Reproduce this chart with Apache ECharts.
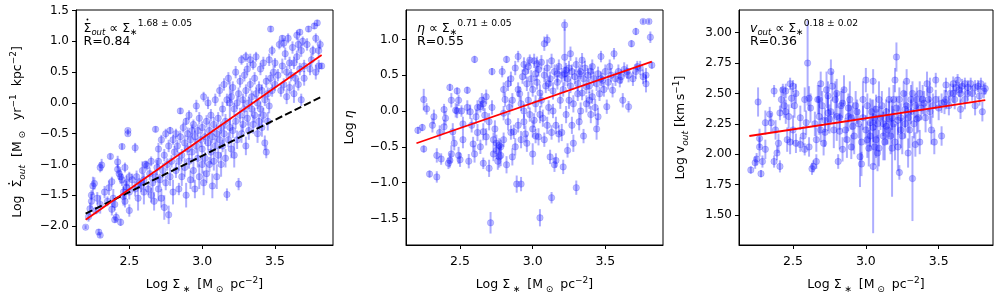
<!DOCTYPE html>
<html><head><meta charset="utf-8">
<script src="https://cdn.jsdelivr.net/npm/echarts@6/dist/echarts.min.js"></script>
<style>html,body{margin:0;padding:0;background:#fff}#c{width:1000px;height:300px}</style>
</head><body><div id="c"></div>
<script>
const xTicks=[2.5,3.0,3.5];
const y1Ticks=[-2.0,-1.5,-1.0,-0.5,0.0,0.5,1.0,1.5];
const y2Ticks=[-1.5,-1.0,-0.5,0.0,0.5,1.0];
const y3Ticks=[1.5,1.75,2.0,2.25,2.5,2.75,3.0];

// [log Sigma*, value, y error]
const p1=[
[2.20,-2.02,0.03],[2.22,-1.85,0.08],[2.23,-1.72,0.10],[2.24,-1.60,0.12],[2.24,-1.50,0.08],[2.25,-1.35,0.15],[2.26,-1.31,0.10],[2.27,-1.75,0.06],[2.28,-1.55,0.10],[2.29,-2.10,0.05],[2.30,-2.15,0.04],[2.30,-1.05,0.08],[2.31,-1.01,0.10],[2.30,-1.65,0.15],
[2.33,-1.45,0.10],[2.35,-1.60,0.08],[2.36,-1.38,0.12],[2.37,-0.87,0.05],[2.38,-1.73,0.10],[2.38,-1.28,0.08],[2.39,-1.55,0.15],[2.40,-1.90,0.05],[2.40,-1.65,0.10],
[2.41,-1.86,0.08],[2.42,-0.96,0.10],[2.42,-1.08,0.08],[2.43,-1.15,0.10],[2.44,-1.94,0.06],[2.44,-1.20,0.12],[2.45,-0.71,0.05],[2.45,-1.25,0.10],[2.46,-1.45,0.10],[2.46,-1.52,0.15],[2.47,-1.05,0.08],[2.47,-1.60,0.10],[2.48,-1.37,0.10],[2.48,-1.30,0.12],[2.49,-0.45,0.03],[2.49,-0.50,0.03],[2.50,-1.75,0.10],[2.50,-1.20,0.08],[2.50,-1.45,0.12],
[2.52,-1.25,0.10],[2.54,-0.73,0.08],[2.54,-1.40,0.12],[2.55,-1.20,0.10],[2.56,-1.55,0.20],[2.57,-1.30,0.08],[2.58,-1.35,0.10],[2.59,-1.10,0.15],[2.60,-1.45,0.20],[2.60,-1.25,0.10],[2.61,-1.00,0.06],[2.62,-1.02,0.08],
[2.63,-1.40,0.10],[2.64,-1.15,0.10],[2.65,-1.50,0.12],[2.65,-0.95,0.08],[2.66,-1.30,0.15],[2.67,-1.60,0.15],[2.68,-0.43,0.05],[2.68,-1.20,0.10],[2.69,-1.05,0.12],[2.70,-0.75,0.10],[2.70,-1.40,0.20],[2.70,-0.95,0.10],
[2.71,-1.25,0.10],[2.72,-0.60,0.08],[2.72,-1.55,0.15],[2.73,-1.10,0.12],[2.74,-0.85,0.10],[2.74,-1.70,0.20],[2.75,-0.50,0.08],[2.75,-1.30,0.12],[2.76,-1.00,0.10],[2.77,-1.82,0.15],[2.77,-0.70,0.10],[2.78,-1.20,0.15],[2.78,-0.45,0.06],[2.79,-0.95,0.10],[2.80,-1.45,0.20],[2.80,-0.60,0.08],
[2.81,-0.80,0.10],[2.82,-1.10,0.12],[2.82,-0.50,0.08],[2.83,-0.70,0.10],[2.84,-0.95,0.15],[2.84,-1.40,0.10],[2.85,-0.13,0.05],[2.85,-0.55,0.10],[2.86,-1.20,0.15],[2.86,-0.85,0.10],[2.87,-0.40,0.08],[2.88,-0.65,0.12],[2.88,-1.05,0.15],[2.89,-1.50,0.20],[2.89,-0.30,0.06],[2.90,-0.75,0.10],[2.90,-0.50,0.10],
[2.91,-0.95,0.12],[2.91,-0.20,0.08],[2.92,-0.60,0.10],[2.92,-1.25,0.15],[2.93,-0.45,0.10],[2.93,-0.80,0.12],[2.94,-1.10,0.20],[2.94,-0.35,0.08],[2.95,-0.55,0.10],[2.95,-1.40,0.15],[2.96,-0.70,0.12],[2.96,-0.05,0.10],[2.97,-0.90,0.15],[2.97,-0.45,0.10],[2.98,-1.20,0.20],[2.98,-0.25,0.10],[2.99,-0.60,0.12],[3.00,-1.00,0.15],[3.00,-0.40,0.10],
[3.00,-0.75,0.10],[3.01,-1.30,0.20],[3.01,0.10,0.08],[3.02,-0.55,0.12],[3.02,-0.90,0.10],[3.03,-0.30,0.10],[3.03,-1.15,0.15],[3.04,-0.65,0.12],[3.04,0.00,0.10],[3.05,-0.45,0.15],[3.05,-1.00,0.12],[3.06,-0.80,0.20],[3.06,-0.20,0.10],[3.07,-1.35,0.20],[3.07,-0.55,0.10],[3.08,-0.35,0.12],[3.08,-0.95,0.15],[3.09,0.05,0.10],[3.09,-0.70,0.12],[3.10,-0.50,0.15],[3.10,-1.20,0.20],
[3.11,-0.25,0.10],[3.11,-0.85,0.12],[3.12,0.20,0.10],[3.12,-0.60,0.15],[3.13,-0.40,0.10],[3.13,-1.00,0.20],[3.14,-0.10,0.12],[3.14,-0.70,0.10],[3.15,0.30,0.10],[3.15,-0.50,0.15],[3.16,-0.30,0.12],[3.16,-0.90,0.15],[3.17,-1.49,0.10],[3.17,0.05,0.10],[3.18,-0.60,0.12],[3.18,0.40,0.10],[3.19,0.00,0.35],[3.19,-0.40,0.15],[3.20,0.10,0.10],[3.20,-0.75,0.15],
[3.21,-0.45,0.12],[3.21,0.25,0.10],[3.22,-0.10,0.10],[3.22,-0.85,0.20],[3.23,0.50,0.10],[3.23,-0.30,0.12],[3.24,0.00,0.10],[3.24,-0.60,0.15],[3.25,-1.32,0.10],[3.25,0.15,0.10],[3.26,-0.20,0.12],[3.26,0.35,0.10],[3.27,-0.50,0.15],[3.27,0.70,0.08],[3.28,0.05,0.10],[3.28,-0.35,0.12],[3.29,0.45,0.10],[3.29,-0.10,0.15],[3.30,0.20,0.10],[3.30,-0.70,0.15],[3.30,0.75,0.08],
[3.31,-0.25,0.12],[3.31,0.55,0.10],[3.32,0.00,0.10],[3.32,-0.45,0.15],[3.33,0.30,0.10],[3.33,0.70,0.10],[3.34,-0.10,0.12],[3.34,0.10,0.10],[3.35,0.62,0.08],[3.35,-0.35,0.15],[3.36,0.40,0.10],[3.36,-0.20,0.12],[3.37,0.15,0.10],[3.37,0.75,0.08],[3.38,-0.50,0.15],[3.38,0.00,0.10],[3.39,0.25,0.10],[3.39,-0.30,0.12],[3.40,0.55,0.10],[3.40,-0.10,0.12],
[3.41,0.20,0.10],[3.41,-0.40,0.15],[3.42,0.65,0.10],[3.42,-0.20,0.12],[3.43,-0.65,0.12],[3.43,0.05,0.10],[3.44,-0.80,0.10],[3.44,0.35,0.10],[3.45,-0.30,0.15],[3.45,0.15,0.10],[3.46,0.70,0.10],[3.46,-0.05,0.12],[3.47,1.20,0.05],[3.47,0.40,0.10],[3.48,0.20,0.10],[3.48,0.85,0.08],[3.49,0.50,0.10],[3.50,0.30,0.10],[3.50,0.65,0.08],
[3.52,0.45,0.10],[3.53,0.95,0.08],[3.54,0.20,0.10],[3.55,0.60,0.12],[3.55,1.05,0.05],[3.56,0.30,0.10],[3.56,0.97,0.08],[3.57,0.80,0.10],[3.58,0.50,0.10],[3.58,0.10,0.12],[3.59,1.05,0.08],[3.60,0.65,0.10],[3.60,0.25,0.10],
[3.61,0.45,0.10],[3.62,0.90,0.10],[3.63,0.15,0.15],[3.63,0.65,0.10],[3.64,0.40,0.10],[3.65,1.10,0.08],[3.65,0.75,0.10],[3.66,0.30,0.10],[3.66,0.95,0.10],[3.67,1.15,0.05],[3.67,0.55,0.10],[3.68,0.85,0.10],[3.68,0.05,0.10],[3.69,1.00,0.08],[3.70,0.60,0.10],[3.70,0.40,0.12],
[3.72,0.95,0.10],[3.73,1.20,0.05],[3.74,0.55,0.10],[3.75,0.70,0.10],[3.76,0.85,0.08],[3.77,1.25,0.05],[3.78,0.50,0.12],[3.78,1.05,0.08],[3.79,1.30,0.05],[3.80,0.60,0.10],[3.80,0.85,0.10],[3.81,0.95,0.08],[3.82,0.60,0.05]
];

const p2=[
[2.21,-0.27,0.05],[2.24,-0.23,0.05],[2.25,0.16,0.15],[2.27,0.03,0.08],[2.25,-0.53,0.05],[2.29,-0.88,0.05],[2.34,-0.92,0.08],[2.32,-0.08,0.10],[2.31,-0.20,0.10],[2.34,-0.62,0.10],[2.37,-0.67,0.08],[2.39,-0.22,0.10],[2.39,0.02,0.08],[2.43,0.33,0.05],[2.43,-0.69,0.10],[2.42,-0.73,0.08],[2.44,0.15,0.10],[2.48,0.28,0.05],[2.49,0.15,0.08],[2.47,0.01,0.10],[2.45,-0.29,0.12],[2.49,-0.62,0.12],[2.50,-0.68,0.10],[2.51,0.00,0.08],[2.52,-0.18,0.10],[2.55,0.29,0.05],[2.57,-0.01,0.10],[2.59,-0.46,0.10],[2.60,-0.60,0.12],[2.60,0.72,0.05],[2.61,-0.08,0.10],[2.64,0.06,0.08],[2.65,0.15,0.10],[2.66,-0.29,0.12],[2.67,-0.06,0.10],[2.66,-0.73,0.08],[2.68,-0.36,0.12],[2.72,0.55,0.05],[2.71,-1.56,0.15],[2.73,-0.40,0.10],[2.75,-0.45,0.12],[2.77,-0.64,0.15],[2.78,-0.50,0.10],[2.79,0.55,0.08],[2.80,-0.03,0.10],[2.81,0.16,0.10],[2.82,0.72,0.05],[2.83,0.38,0.10],[2.84,0.05,0.10],[2.86,-0.64,0.12],[2.87,-0.29,0.10],[2.89,-1.02,0.12],[2.92,-1.02,0.10],[2.90,0.76,0.08],[2.91,0.24,0.10],[2.93,0.48,0.10],[2.94,0.00,0.10],[2.95,-0.32,0.12],[2.96,0.38,0.10],[2.97,0.15,0.12],[2.98,0.71,0.08],[3.00,-0.60,0.15],[3.01,-0.13,0.10],[3.02,0.52,0.10],[3.03,0.66,0.10],[3.04,-0.36,0.12],[3.05,-1.49,0.12],[3.06,0.15,0.10],[3.08,0.94,0.10],[3.10,0.99,0.08],[3.11,0.38,0.10],[3.12,-0.64,0.10],[3.13,-1.21,0.08],[3.14,0.00,0.10],[3.16,-0.69,0.10],[3.17,0.52,0.12],[3.18,-0.32,0.12],[3.21,-0.78,0.10],[3.22,1.20,0.08],[3.22,0.75,0.40],[3.23,0.57,0.10],[3.25,0.15,0.12],[3.26,0.80,0.10],[3.28,-0.45,0.12],[3.30,-1.07,0.10],[3.31,0.24,0.10],[3.32,0.52,0.10],[3.33,0.00,0.12],[3.34,0.71,0.10],[3.37,0.34,0.10],[3.39,0.15,0.12],[3.41,0.62,0.10],[3.44,-0.25,0.15],[3.45,-0.08,0.12],[3.46,0.24,0.10],[3.47,0.76,0.08],[3.48,0.43,0.10],[3.51,0.06,0.10],[3.53,0.62,0.10],[3.55,0.29,0.10],[3.56,0.80,0.08],[3.60,0.43,0.10],[3.62,0.15,0.10],[3.65,0.55,0.10],[3.66,0.06,0.08],[3.68,0.94,0.05],[3.71,1.11,0.05],[3.76,1.25,0.03],[3.80,1.25,0.03],[3.81,1.03,0.08],[3.82,0.64,0.05],[3.78,0.38,0.12],[3.76,0.48,0.10],[3.72,0.62,0.08],
[2.95,0.55,0.10],[2.97,0.62,0.10],[2.99,0.45,0.12],[3.00,0.30,0.10],[3.01,0.70,0.10],[3.02,0.10,0.12],[3.03,0.40,0.10],[3.04,0.58,0.10],[3.05,0.25,0.12],[3.06,0.68,0.10],[3.07,-0.10,0.12],[3.08,0.50,0.10],[3.09,0.35,0.10],[3.10,0.60,0.12],[3.11,0.05,0.10],[3.12,0.45,0.10],[3.13,0.70,0.10],[3.14,0.28,0.12],[3.15,0.55,0.10],[3.16,-0.20,0.12],[3.17,0.40,0.10],[3.18,0.62,0.10],[3.19,0.15,0.12],[3.20,0.50,0.10],[3.21,0.30,0.10],[3.22,0.52,0.10],[3.23,-0.05,0.12],[3.24,0.45,0.10],[3.25,0.60,0.10],[3.26,0.35,0.10],[3.27,0.55,0.10],[3.28,0.10,0.12],[3.29,0.48,0.10],[3.30,0.65,0.10],[3.31,0.38,0.10],[3.32,-0.15,0.12],[3.33,0.55,0.10],[3.34,0.25,0.10],[3.35,0.45,0.10],[3.36,0.60,0.10],[3.37,0.10,0.12],[3.38,0.50,0.10],[3.39,0.35,0.10],[3.40,0.55,0.10],[3.41,0.20,0.10],[3.42,0.45,0.10],[3.43,0.05,0.12],[3.44,0.38,0.10],[3.45,0.52,0.10],[3.47,0.45,0.10],[3.49,0.30,0.10],[3.50,0.55,0.10],[3.52,0.40,0.10],[3.54,0.50,0.10],[3.57,0.45,0.10],[3.59,0.55,0.10],[3.61,0.48,0.10],[3.63,0.58,0.10],[3.66,0.50,0.10],[3.69,0.45,0.10],[3.71,0.55,0.10],[3.74,0.60,0.10],[3.78,0.50,0.10],
[2.75,-0.55,0.12],[2.76,-0.70,0.12],[2.77,-0.48,0.10],[2.78,-0.62,0.15],[2.80,-0.40,0.10],[2.82,-0.75,0.12],[2.85,-0.30,0.10],[2.88,-0.50,0.12],[2.90,-0.20,0.10],[2.92,-0.40,0.12],[2.94,-0.15,0.10],[2.96,-0.45,0.12],[2.98,-0.05,0.10],[3.00,-0.25,0.12],[3.02,-0.35,0.10],[3.05,-0.05,0.12],[3.08,-0.40,0.10],[3.10,-0.20,0.12],[3.13,-0.30,0.10],[3.15,-0.75,0.10],[3.20,-0.30,0.12],[3.24,-0.55,0.10],[3.27,-0.20,0.12],[3.35,-0.35,0.10],[3.40,-0.05,0.12],
[2.85,0.45,0.10],[2.88,0.60,0.10],[2.90,0.30,0.10],[2.92,0.10,0.10],[2.94,0.65,0.10],[2.62,0.05,0.10],[2.66,0.10,0.10],[2.70,-0.15,0.12],[2.72,0.05,0.10],[2.74,-0.25,0.12],[2.68,0.20,0.10],[2.58,-0.20,0.10],[2.55,0.05,0.10],[2.52,-0.40,0.12],[2.46,-0.45,0.10],[2.40,-0.10,0.10],[2.36,-0.30,0.10],[2.44,-0.60,0.12],[2.48,0.00,0.10],[2.56,-0.70,0.10],[2.62,-0.30,0.12],[2.64,-0.50,0.10],[2.70,-0.80,0.12],[2.73,-0.60,0.10],[2.80,0.30,0.10],[2.83,-0.15,0.12],[2.86,0.15,0.10]
];

const p3=[
[2.21,1.87,0.03],[2.24,1.93,0.05],[2.25,1.96,0.05],[2.27,2.06,0.08],[2.27,2.13,0.08],[2.26,2.43,0.12],[2.28,1.84,0.03],[2.29,1.94,0.05],[2.31,2.26,0.10],[2.31,2.04,0.08],[2.34,2.33,0.06],[2.35,2.26,0.08],[2.37,1.94,0.05],[2.37,2.52,0.05],[2.39,2.01,0.06],[2.40,2.09,0.08],[2.41,1.90,0.05],[2.41,2.34,0.06],[2.43,2.53,0.05],[2.44,2.40,0.10],[2.45,2.52,0.06],[2.46,2.12,0.10],[2.47,2.31,0.10],[2.48,2.58,0.05],[2.49,2.46,0.08],[2.50,2.56,0.05],[2.51,2.40,0.10],[2.52,2.09,0.08],[2.55,2.08,0.06],[2.57,2.15,0.08],[2.58,2.04,0.05],[2.59,2.26,0.10],[2.60,2.75,0.35],[2.61,2.46,0.10],[2.61,2.06,0.08],[2.63,1.88,0.05],[2.64,1.90,0.05],[2.66,1.94,0.06],[2.66,2.12,0.10],[2.68,2.31,0.15],[2.68,2.45,0.12],[2.69,2.58,0.10],[2.71,2.09,0.10],[2.72,2.18,0.12],[2.73,2.53,0.15],[2.74,2.34,0.15],[2.75,2.29,0.12],[2.76,2.68,0.10],[2.77,2.56,0.12],[2.79,2.45,0.15],[2.80,2.31,0.20],[2.81,1.94,0.06],[2.82,2.19,0.15],[2.83,2.40,0.12],[2.84,2.04,0.10],[2.85,2.53,0.12],[2.87,2.12,0.15],[2.88,2.31,0.12],[2.89,2.45,0.15],[2.90,2.06,0.10],[2.91,2.23,0.20],[2.93,2.40,0.12],[2.96,1.98,0.25],[2.97,1.92,0.10],[2.98,2.45,0.15],[3.00,2.61,0.10],[3.01,2.12,0.15],[3.03,2.26,0.20],[3.05,2.60,0.10],[3.06,2.06,0.15],[3.05,1.90,0.55],[3.07,2.37,0.12],[3.08,2.01,0.15],[3.09,2.45,0.15],[3.12,2.15,0.20],[3.14,2.23,0.15],[3.16,2.29,0.15],[3.18,2.05,0.40],[3.19,2.45,0.12],[3.20,2.61,0.10],[3.21,2.80,0.12],[3.22,2.06,0.20],[3.23,1.85,0.06],[3.24,2.20,0.15],[3.27,2.37,0.15],[3.28,2.60,0.10],[3.29,2.01,0.12],[3.32,1.80,0.35],[3.31,2.45,0.12],[3.34,2.08,0.10],[3.35,2.29,0.12],[3.37,2.10,0.10],[3.39,2.45,0.12],[3.42,2.58,0.10],[3.44,2.53,0.10],[3.45,2.20,0.12],[3.47,2.10,0.10],[3.48,2.61,0.06],[3.52,2.15,0.08],[3.54,2.43,0.10],[3.55,2.57,0.06],[3.58,2.50,0.08],[3.60,2.58,0.06],[3.61,2.45,0.08],[3.63,2.61,0.05],[3.64,2.53,0.06],[3.65,2.37,0.08],[3.68,2.58,0.05],[3.70,2.50,0.06],[3.72,2.58,0.05],[3.75,2.40,0.08],[3.77,2.56,0.05],[3.79,2.58,0.05],[3.80,2.35,0.08],[3.82,2.54,0.05],
[2.70,2.40,0.12],[2.72,2.28,0.10],[2.74,2.48,0.12],[2.76,2.35,0.10],[2.78,2.20,0.15],[2.80,2.50,0.12],[2.82,2.30,0.10],[2.84,2.42,0.12],[2.86,2.20,0.10],[2.88,2.38,0.12],[2.90,2.30,0.10],[2.92,2.15,0.15],[2.94,2.35,0.10],[2.95,2.25,0.12],[2.97,2.10,0.15],[2.98,2.30,0.10],[3.00,2.20,0.12],[3.01,2.40,0.10],[3.02,2.05,0.15],[3.03,2.15,0.12],[3.04,2.35,0.10],[3.05,2.22,0.12],[3.06,2.30,0.10],[3.07,2.12,0.15],[3.08,2.25,0.12],[3.09,2.05,0.15],[3.10,2.30,0.10],[3.11,2.40,0.12],[3.12,2.25,0.10],[3.13,2.10,0.15],[3.14,2.35,0.10],[3.15,2.20,0.12],[3.16,2.45,0.10],[3.17,2.15,0.15],[3.18,2.30,0.10],[3.19,2.25,0.12],[3.20,2.10,0.15],[3.21,2.38,0.10],[3.22,2.28,0.12],[3.23,2.45,0.10],[3.24,2.30,0.12],[3.25,2.15,0.15],[3.26,2.50,0.10],[3.27,2.25,0.12],[3.28,2.40,0.10],[3.29,2.30,0.12],[3.30,2.20,0.15],[3.31,2.35,0.10],[3.32,2.50,0.10],[3.33,2.25,0.12],[3.34,2.40,0.10],[3.35,2.45,0.10],[3.36,2.30,0.12],[3.37,2.50,0.10],[3.38,2.38,0.10],[3.40,2.42,0.10],[3.41,2.30,0.12],[3.43,2.45,0.10],[3.44,2.35,0.10],[3.46,2.40,0.10],[3.48,2.45,0.08],[3.50,2.38,0.10],[3.52,2.42,0.08],[3.55,2.45,0.08],[3.57,2.40,0.08],[3.60,2.50,0.08],[3.62,2.55,0.06],[3.65,2.50,0.08],[3.66,2.56,0.06],[3.68,2.45,0.08],[3.70,2.55,0.06],[3.73,2.50,0.06],[3.75,2.55,0.06],[3.78,2.48,0.08],[3.81,2.52,0.06],
[2.45,2.35,0.10],[2.50,2.20,0.12],[2.55,2.30,0.10],[2.62,2.38,0.12],[2.65,2.25,0.10],[2.67,2.45,0.12],[2.69,2.20,0.10],[2.58,2.45,0.10],[2.52,2.50,0.08],[2.48,2.10,0.10],[2.42,2.45,0.10],[2.38,2.20,0.08]
];

const fit1=[[2.2,-1.9],[3.82,0.78]];
const dash1=[[2.2,-1.80],[3.82,0.10]];
const fit2=[[2.2,-0.45],[3.82,0.69]];
const fit3=[[2.2,2.15],[3.82,2.445]];

const BLUE='rgba(0,0,255,0.32)';
const FONT='DejaVu Sans';
const fmt1=v=>v.toFixed(1).replace('-','\u2212');
const fmt2=v=>v.toFixed(2).replace('-','\u2212');

const grids=[
 {left:76,top:10,width:257,height:235},
 {left:406,top:10,width:257,height:235},
 {left:739,top:10,width:254,height:235}
].map(g=>Object.assign(g,{show:true,borderColor:'#000',borderWidth:1,backgroundColor:'#fff'}));

function xAxis(i,min,max){
 return {type:'value',gridIndex:i,min:min,max:max,splitLine:{show:false},
  axisLine:{show:true,onZero:false,lineStyle:{color:'#000',width:1}},
  axisTick:{show:true,length:4,lineStyle:{color:'#000'},customValues:xTicks},
  axisLabel:{color:'#000',fontFamily:FONT,fontSize:12.5,margin:10,customValues:xTicks,formatter:fmt1}};
}
function yAxis(i,min,max,ticks,f){
 return {type:'value',gridIndex:i,min:min,max:max,splitLine:{show:false},
  axisLine:{show:true,onZero:false,lineStyle:{color:'#000',width:1}},
  axisTick:{show:true,length:4,lineStyle:{color:'#000'},customValues:ticks},
  axisLabel:{color:'#000',fontFamily:FONT,fontSize:12,margin:7,customValues:ticks,formatter:f}};
}
function errSeries(i,data){
 return {type:'custom',xAxisIndex:i,yAxisIndex:i,data:data,clip:true,silent:true,
  encode:{x:0,y:1},
  renderItem:function(params,api){
   const x=api.value(0),y=api.value(1),e=api.value(2);
   const a=api.coord([x,y-e]),b=api.coord([x,y+e]);
   return {type:'line',shape:{x1:a[0],y1:a[1],x2:b[0],y2:b[1]},style:{stroke:BLUE,lineWidth:2}};
  }};
}
function ptSeries(i,data){
 return {type:'scatter',xAxisIndex:i,yAxisIndex:i,data:data.map(d=>[d[0],d[1]]),symbol:'circle',symbolSize:6.5,
  silent:true,itemStyle:{color:BLUE,borderColor:'rgba(0,0,255,0.25)',borderWidth:0.8}};
}
function lineSeries(i,data,color,type,width){
 return {type:'line',xAxisIndex:i,yAxisIndex:i,data:data,symbol:'none',silent:true,
  lineStyle:{color:color,width:width,type:type},z:5};
}

// rich styles: axis titles
const richL={
 n:{fontFamily:FONT,fontSize:12.5,lineHeight:18,verticalAlign:'middle',color:'#000'},
 ni:{fontFamily:FONT,fontSize:12.5,fontStyle:'italic',lineHeight:18,verticalAlign:'middle',color:'#000'},
 s:{fontFamily:FONT,fontSize:9,lineHeight:11,verticalAlign:'bottom',color:'#000'},
 si:{fontFamily:FONT,fontSize:9,fontStyle:'italic',lineHeight:11,verticalAlign:'bottom',color:'#000'},
 p:{fontFamily:FONT,fontSize:9,lineHeight:8,verticalAlign:'top',color:'#000'}
};
// rich styles: in-panel annotations
const richA={
 n:{fontFamily:FONT,fontSize:12.5,lineHeight:18,verticalAlign:'middle',color:'#000'},
 ni:{fontFamily:FONT,fontSize:12.5,fontStyle:'italic',lineHeight:18,verticalAlign:'middle',color:'#000'},
 s:{fontFamily:FONT,fontSize:9,lineHeight:9,verticalAlign:'bottom',color:'#000'},
 si:{fontFamily:FONT,fontSize:8.5,fontStyle:'italic',lineHeight:12,verticalAlign:'bottom',color:'#000'},
 p:{fontFamily:FONT,fontSize:9.2,lineHeight:11,verticalAlign:'top',color:'#000'}
};
const mctx=document.createElement('canvas').getContext('2d');
function tw(rich,key,t){const s=rich[key];mctx.font=(s.fontStyle?'italic ':'')+s.fontSize+'px "DejaVu Sans"';return mctx.measureText(t).width;}
function build(tokens){return tokens.map(t=>'{'+t[0]+'|'+t[1]+'}').join('');}
function width(rich,tokens){return tokens.reduce((a,t)=>a+tw(rich,t[0],t[1]),0);}
function txt(x,y,tokens,r,rot,align){
 return {type:'text',x:x,y:y,rotation:rot||0,silent:true,z:100,
  style:{text:build(tokens),rich:r,align:align||'center',verticalAlign:'middle'}};
}
function dot(x,y){return {type:'circle',shape:{cx:x,cy:y,r:0.95},style:{fill:'#000'},silent:true,z:100};}

const xNameT=[['n','Log \u03a3'],['s',' \u2217 '],['n',' [M'],['s',' \u2299 '],['n',' pc'],['p','\u22122'],['n',']']];
const y1T=[['n','Log  '],['n','\u03a3'],['si','out'],['n','  [M'],['s',' \u2299 '],['n','  yr'],['p','\u22121'],['n','  kpc'],['p','\u22122'],['n',']']];
const y2T=[['n','Log '],['ni','\u03b7']];
const y3T=[['n','Log v'],['si','out'],['n',' [km\u2009s'],['p','\u22121'],['n',']']];
const a1T=[['n','\u03a3'],['si','out'],['n',' \u221d \u03a3'],['s','\u2217'],['p','1.68 \u00b1 0.05']];
const a2T=[['ni','\u03b7'],['n',' \u221d \u03a3'],['s','\u2217'],['p','0.71 \u00b1 0.05']];
const a3T=[['ni','v'],['si','out'],['n',' \u221d \u03a3'],['s','\u2217'],['p','0.18 \u00b1 0.02']];

// y-label 1 geometry (rotated, centred at yl1x, yl1y)
const yl1x=18, yl1y=132;
const y1W=width(richL,y1T);
const sigAlong=-y1W/2+tw(richL,'n','Log  ')+tw(richL,'n','\u03a3')/2;
const a1x=83.5, a1y=28.5;

const option={
 animation:false,
 grid:grids,
 xAxis:[xAxis(0,2.134,3.898),xAxis(1,2.128,3.897),xAxis(2,2.129,3.873)],
 yAxis:[yAxis(0,-2.31,1.51,y1Ticks,fmt1),yAxis(1,-1.87,1.41,y2Ticks,fmt1),yAxis(2,1.253,3.187,y3Ticks,fmt2)],
 series:[
  errSeries(0,p1),ptSeries(0,p1),lineSeries(0,dash1,'#000',[7.4,3.2],2),lineSeries(0,fit1,'#ff0000','solid',1.8),
  errSeries(1,p2),ptSeries(1,p2),lineSeries(1,fit2,'#ff0000','solid',1.8),
  errSeries(2,p3),ptSeries(2,p3),lineSeries(2,fit3,'#ff0000','solid',1.8)
 ],
 graphic:[
  txt(204.5,285,xNameT,richL),txt(534.5,285,xNameT,richL),txt(866,285,xNameT,richL),
  txt(yl1x,yl1y,y1T,richL,Math.PI/2),dot(yl1x-9,yl1y-sigAlong),
  txt(350,127.5,y2T,richL,Math.PI/2),
  txt(681,127.5,y3T,richL,Math.PI/2),
  txt(a1x,a1y,a1T,richA,0,'left'),dot(a1x+tw(richA,'n','\u03a3')/2,a1y-9),
  txt(a1x,42,[['n','R=0.84']],richA,0,'left'),
  txt(417,a1y,a2T,richA,0,'left'),
  txt(417,42,[['n','R=0.55']],richA,0,'left'),
  txt(750,a1y,a3T,richA,0,'left'),
  txt(750,42,[['n','R=0.36']],richA,0,'left')
 ]
};
const chart=echarts.init(document.getElementById('c'));
chart.setOption(option);
</script></body></html>
